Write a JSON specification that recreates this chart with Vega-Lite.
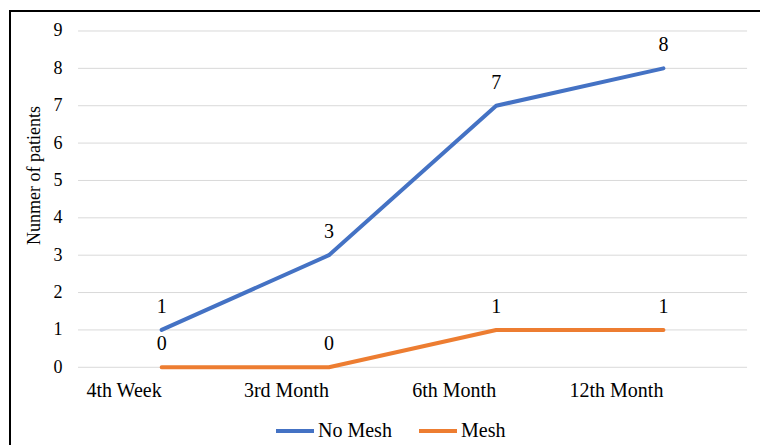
{
  "$schema": "https://vega.github.io/schema/vega-lite/v6.json",
  "width": 752,
  "height": 436,
  "autosize": {"type": "none"},
  "padding": {"left": 10, "top": 11, "right": 0, "bottom": 0},
  "background": "white",
  "config": {
    "view": {"stroke": "black", "strokeWidth": 2},
    "font": "Liberation Serif"
  },
  "datasets": {
    "series": [
      {"period": "4th Week", "group": "No Mesh", "patients": 1},
      {"period": "3rd Month", "group": "No Mesh", "patients": 3},
      {"period": "6th Month", "group": "No Mesh", "patients": 7},
      {"period": "12th Month", "group": "No Mesh", "patients": 8},
      {"period": "4th Week", "group": "Mesh", "patients": 0},
      {"period": "3rd Month", "group": "Mesh", "patients": 0},
      {"period": "6th Month", "group": "Mesh", "patients": 1},
      {"period": "12th Month", "group": "Mesh", "patients": 1}
    ],
    "grid": [
      {"level": 0}, {"level": 1}, {"level": 2}, {"level": 3}, {"level": 4},
      {"level": 5}, {"level": 6}, {"level": 7}, {"level": 8}, {"level": 9}
    ]
  },
  "resolve": {"scale": {"x": "shared", "y": "shared"}},
  "layer": [
    {
      "data": {"name": "grid"},
      "mark": {"type": "rule", "color": "#d9d9d9", "strokeWidth": 1},
      "encoding": {
        "y": {"field": "level", "type": "quantitative"},
        "x": {"datum": "4th Week", "bandPosition": 0, "type": "nominal"},
        "x2": {"datum": "12th Month", "bandPosition": 1}
      }
    },
    {
      "data": {"name": "series"},
      "mark": {"type": "line", "strokeWidth": 4, "strokeCap": "round", "strokeJoin": "round"},
      "encoding": {
        "x": {
          "field": "period",
          "type": "nominal",
          "sort": ["4th Week", "3rd Month", "6th Month", "12th Month"],
          "scale": {
            "type": "band",
            "domain": ["4th Week", "3rd Month", "6th Month", "12th Month"],
            "paddingInner": 0,
            "paddingOuter": 0.248,
            "align": 0.82
          },
          "axis": {
            "title": null,
            "orient": "bottom",
            "offset": -80,
            "domain": false,
            "ticks": false,
            "labelAngle": 0,
            "labelPadding": 23,
            "labelFontSize": 20,
            "labelFont": "Liberation Serif",
            "labelColor": "black"
          }
        },
        "y": {
          "field": "patients",
          "type": "quantitative",
          "scale": {"domain": [-2.133, 9.535], "nice": false, "zero": false},
          "axis": {
            "title": "Nunmer of patients",
            "values": [0, 1, 2, 3, 4, 5, 6, 7, 8, 9],
            "grid": false,
            "domain": false,
            "ticks": false,
            "offset": -70,
            "labelPadding": 18,
            "labelFontSize": 18,
            "labelFont": "Liberation Serif",
            "labelColor": "black",
            "titleFont": "Liberation Serif",
            "titleFontSize": 18,
            "titleFontWeight": "normal",
            "titleColor": "black",
            "titlePadding": 10,
            "titleY": 164
          }
        },
        "color": {
          "field": "group",
          "type": "nominal",
          "scale": {"domain": ["No Mesh", "Mesh"], "range": ["#4472C4", "#ED7D31"]},
          "legend": {
            "title": null,
            "orient": "none",
            "legendX": 264,
            "legendY": 399,
            "direction": "horizontal",
            "symbolType": "stroke",
            "symbolSize": 1444,
            "symbolStrokeWidth": 4,
            "labelFontSize": 20,
            "labelFont": "Liberation Serif",
            "labelColor": "black",
            "labelOffset": 2,
            "columnPadding": 19
          }
        }
      }
    },
    {
      "data": {"name": "series"},
      "mark": {"type": "text", "dy": -23, "fontSize": 20, "font": "Liberation Serif", "color": "black", "baseline": "middle"},
      "encoding": {
        "x": {"field": "period", "type": "nominal"},
        "y": {"field": "patients", "type": "quantitative"},
        "text": {"field": "patients", "type": "quantitative"}
      }
    }
  ]
}
